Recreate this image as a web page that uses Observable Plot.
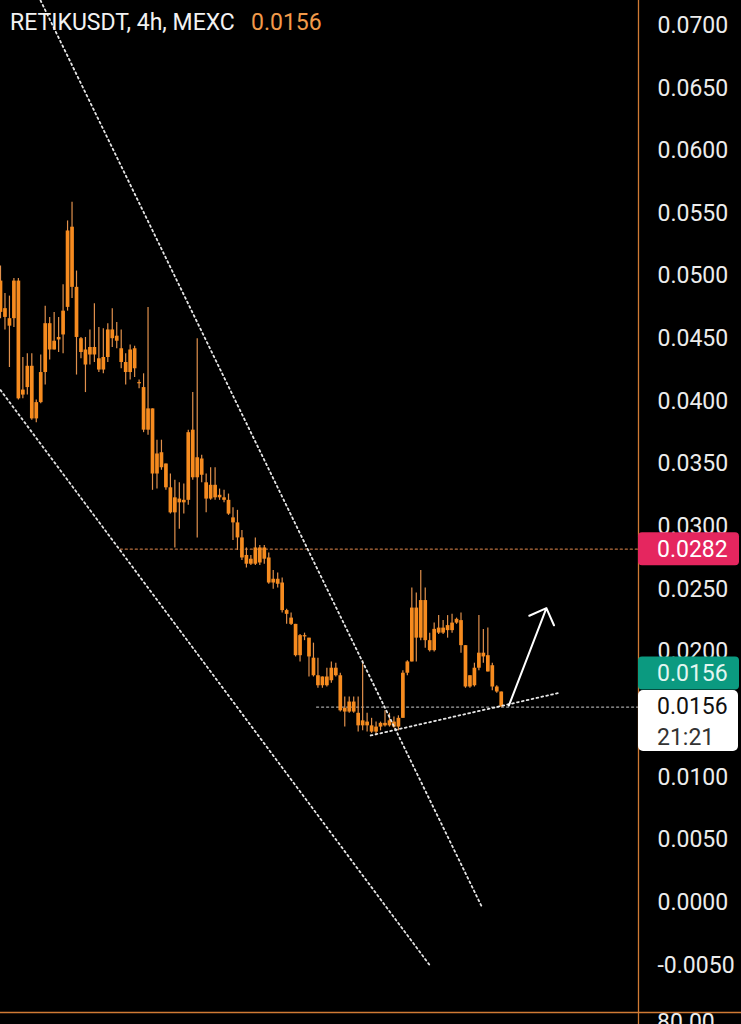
<!DOCTYPE html>
<html><head><meta charset="utf-8">
<script src="https://cdn.jsdelivr.net/npm/d3@7"></script>
<script src="https://cdn.jsdelivr.net/npm/@observablehq/plot@0.6"></script>
<style>
html,body{margin:0;padding:0;background:#000;}
#chart{position:relative;width:741px;height:1024px;overflow:hidden;background:#000;}
</style>
</head><body><div id="chart"></div>
<script>
// ---- Data (RETIKUSDT 4h candles) ----
const openP = [0.0496,0.0474,0.0466,0.0466,0.0496,0.0405,0.0411,0.0428,0.0386,0.0399,
0.0423,0.0462,0.0441,0.0449,0.0453,0.0475,0.0539,0.0491,0.0450,0.0441,
0.0437,0.0443,0.0434,0.0425,0.0435,0.0457,0.0452,0.0442,0.0431,0.0423,
0.0442,0.0415,0.0411,0.0377,0.0394,0.0342,0.0359,0.0350,0.0331,0.0311,
0.0322,0.0319,0.0321,0.0377,0.0339,0.0354,0.0335,0.0322,0.0333,0.0323,
0.0323,0.0321,0.0307,0.0303,0.0291,0.0277,0.0270,0.0270,0.0283,0.0274,
0.0275,0.0255,0.0258,0.0255,0.0233,0.0227,0.0222,0.0197,0.0213,0.0211,
0.0195,0.0181,0.0173,0.0180,0.0177,0.0187,0.0181,0.0155,0.0152,0.0160,
0.0151,0.0141,0.0144,0.0141,0.0136,0.0140,0.0143,0.0141,0.0144,0.0140,
0.0147,0.0183,0.0192,0.0235,0.0211,0.0241,0.0209,0.0201,0.0219,0.0215,
0.0217,0.0217,0.0223,0.0225,0.0205,0.0172,0.0173,0.0187,0.0199,0.0197,
0.0189,0.0172,0.0168];
const closeP = [0.0471,0.0467,0.0460,0.0496,0.0402,0.0409,0.0428,0.0386,0.0399,0.0423,
0.0462,0.0441,0.0448,0.0451,0.0472,0.0536,0.0491,0.0451,0.0439,0.0429,
0.0443,0.0437,0.0425,0.0435,0.0457,0.0450,0.0448,0.0431,0.0423,0.0441,
0.0426,0.0414,0.0377,0.0394,0.0342,0.0358,0.0347,0.0331,0.0311,0.0323,
0.0319,0.0321,0.0375,0.0339,0.0355,0.0341,0.0322,0.0333,0.0323,0.0325,
0.0321,0.0310,0.0303,0.0291,0.0275,0.0270,0.0274,0.0283,0.0271,0.0283,
0.0255,0.0258,0.0254,0.0233,0.0230,0.0222,0.0197,0.0213,0.0212,0.0196,
0.0181,0.0173,0.0180,0.0173,0.0187,0.0181,0.0153,0.0152,0.0160,0.0152,
0.0141,0.0145,0.0141,0.0136,0.0140,0.0143,0.0141,0.0145,0.0140,0.0147,
0.0183,0.0192,0.0235,0.0211,0.0241,0.0209,0.0201,0.0218,0.0215,0.0219,
0.0221,0.0223,0.0226,0.0205,0.0172,0.0181,0.0187,0.0199,0.0196,0.0184,
0.0172,0.0168,0.0156];
const highP = [0.0508,0.0486,0.0484,0.0498,0.0498,0.0435,0.0438,0.0438,0.0401,0.0437,
0.0476,0.0467,0.0471,0.0467,0.0493,0.0544,0.0559,0.0504,0.0451,0.0451,
0.0457,0.0478,0.0459,0.0458,0.0462,0.0474,0.0463,0.0457,0.0438,0.0445,
0.0444,0.0417,0.0422,0.0475,0.0394,0.0369,0.0369,0.0350,0.0342,0.0337,
0.0335,0.0334,0.0377,0.0407,0.0450,0.0357,0.0342,0.0347,0.0347,0.0330,
0.0329,0.0326,0.0315,0.0313,0.0297,0.0283,0.0277,0.0291,0.0285,0.0285,
0.0279,0.0265,0.0263,0.0259,0.0234,0.0231,0.0222,0.0214,0.0215,0.0211,
0.0207,0.0195,0.0180,0.0187,0.0192,0.0191,0.0183,0.0164,0.0164,0.0164,
0.0164,0.0193,0.0151,0.0147,0.0144,0.0144,0.0153,0.0151,0.0148,0.0149,
0.0185,0.0193,0.0251,0.0247,0.0265,0.0251,0.0215,0.0223,0.0229,0.0225,
0.0229,0.0230,0.0227,0.0231,0.0205,0.0181,0.0191,0.0229,0.0218,0.0219,
0.0191,0.0173,0.0168];
const lowP = [0.0466,0.0457,0.0427,0.0459,0.0401,0.0402,0.0405,0.0385,0.0383,0.0398,
0.0413,0.0433,0.0441,0.0439,0.0438,0.0472,0.0482,0.0421,0.0434,0.0407,
0.0429,0.0431,0.0423,0.0422,0.0431,0.0443,0.0442,0.0426,0.0413,0.0417,
0.0419,0.0410,0.0375,0.0373,0.0329,0.0330,0.0345,0.0329,0.0310,0.0283,
0.0298,0.0310,0.0317,0.0337,0.0291,0.0335,0.0311,0.0321,0.0321,0.0321,
0.0319,0.0309,0.0289,0.0281,0.0273,0.0267,0.0269,0.0269,0.0269,0.0270,
0.0254,0.0250,0.0251,0.0231,0.0222,0.0221,0.0196,0.0192,0.0209,0.0180,
0.0180,0.0171,0.0171,0.0172,0.0175,0.0180,0.0152,0.0140,0.0151,0.0151,
0.0136,0.0137,0.0136,0.0135,0.0133,0.0137,0.0140,0.0140,0.0139,0.0137,
0.0147,0.0181,0.0192,0.0192,0.0209,0.0203,0.0200,0.0200,0.0214,0.0214,
0.0211,0.0215,0.0222,0.0199,0.0171,0.0171,0.0172,0.0185,0.0191,0.0184,
0.0169,0.0167,0.0156];

const yTicks = [-0.005,0,0.005,0.01,0.015,0.02,0.025,0.03,0.035,0.04,0.045,0.05,0.055,0.06,0.065,0.07];

// drawings (bar index, price)
const channelUpper = [{i: 8.95, v: 0.0720}, {i: 107.6, v: -0.0003}];
const channelLower = [{i: 0, v: 0.0409}, {i: 96.2, v: -0.0051}];
const supportLine  = [{i: 82.8, v: 0.01333}, {i: 125.3, v: 0.01676}];
const arrowPts     = [{i1: 113.7, v1: 0.01572, i2: 122.1, v2: 0.02349}];
const levelHigh    = [{i: 26.8, v: 0.0282}, {i: 142.7, v: 0.0282}];
const levelLast    = [{i: 70.7, v: 0.0156}, {i: 142.7, v: 0.0156}];

const titleText = "RETIKUSDT, 4h, MEXC";
const lastPrice = "0.0156";
const markPrice = "0.0282";
const countdown = "21:21";
const lowerPaneTick = "80.00";

const candles = openP.map((o, i) => ({i, open: o, close: closeP[i], high: highP[i], low: lowP[i]}));

const ORANGE = "#f68b1f";
const WICK = "#e0904c";
const dots = {stroke: "#e6e6e6", strokeWidth: 1.8, strokeDasharray: "1.8,3.2"};

const plot = Plot.plot({
  width: 741, height: 1024,
  marginLeft: 0, marginRight: 103, marginTop: 0, marginBottom: 12,
  style: {background: "#000", color: "#e8e8e8", fontFamily: "Roboto, sans-serif", overflow: "hidden"},
  x: {domain: [0, 142.7], axis: null},
  y: {domain: [0, 0.07], range: [902, 25], label: null, axis: null},
  marks: [
    Plot.line(levelHigh, {x: "i", y: "v", stroke: "#b8703f", strokeWidth: 1.3, strokeDasharray: "2,3"}),
    Plot.line(levelLast, {x: "i", y: "v", stroke: "#a8a8a8", strokeWidth: 1.3, strokeDasharray: "2,3"}),
    Plot.ruleX(candles, {x: "i", y1: "low", y2: "high", stroke: WICK, strokeWidth: 1.2}),
    Plot.ruleX(candles, {x: "i", y1: "open", y2: "close", stroke: ORANGE, strokeWidth: 3.7}),
    Plot.line(channelUpper, {x: "i", y: "v", ...dots}),
    Plot.line(channelLower, {x: "i", y: "v", ...dots}),
    Plot.line(supportLine, {x: "i", y: "v", ...dots}),
    Plot.arrow(arrowPts, {x1: "i1", y1: "v1", x2: "i2", y2: "v2", stroke: "#fff", strokeWidth: 2, headAngle: 90, headLength: 14}),
    Plot.axisY({anchor: "right", ticks: yTicks, tickFormat: d => d.toFixed(4), tickSize: 0, tickPadding: 19, fontSize: 23, fill: "#ececec", label: null})
  ]
});

document.getElementById("chart").appendChild(plot);

const svg = d3.select(plot);
const ys = plot.scale("y");
const yHigh = ys.apply(0.0282);
const yLast = ys.apply(0.0156);

const addText = (x, y, size, fill, txt, dy) => svg.append("text")
  .attr("x", x).attr("y", y).attr("dy", dy || null)
  .attr("text-anchor", "start").attr("font-size", size)
  .attr("font-family", "Roboto, sans-serif").attr("fill", fill).text(txt);

// pane borders
svg.append("line").attr("x1", 638.5).attr("x2", 638.5).attr("y1", 0).attr("y2", 1024).attr("stroke", "#d07a34").attr("stroke-width", 1.3);
svg.append("line").attr("x1", 0).attr("x2", 741).attr("y1", 1012.5).attr("y2", 1012.5).attr("stroke", "#d07a34").attr("stroke-width", 1.3);

// price badges
svg.append("rect").attr("x", 638).attr("y", yHigh - 16.5).attr("width", 101).attr("height", 33).attr("rx", 4).attr("fill", "#e5265f");
addText(657, yHigh, 23, "#fff", markPrice, "0.35em");

svg.append("rect").attr("x", 638).attr("y", yLast - 50).attr("width", 101).attr("height", 33).attr("rx", 4).attr("fill", "#0b9a80");
addText(657, yLast - 33.5, 23, "#e3f6f0", lastPrice, "0.35em");

svg.append("rect").attr("x", 638).attr("y", yLast - 16.5).attr("width", 100).attr("height", 61).attr("rx", 5).attr("fill", "#fff");
addText(657, yLast - 1, 23, "#111", lastPrice, "0.35em");
addText(657, yLast + 30.5, 23, "#333", countdown, "0.35em");

// lower pane tick (cut off at bottom edge, as in the original)
addText(657, 1030, 23, "#ececec", lowerPaneTick);

// title
addText(10, 30, 23, "#f2f2f2", titleText);
addText(251, 30, 23, "#f29a4a", lastPrice);
</script>
</body></html>
